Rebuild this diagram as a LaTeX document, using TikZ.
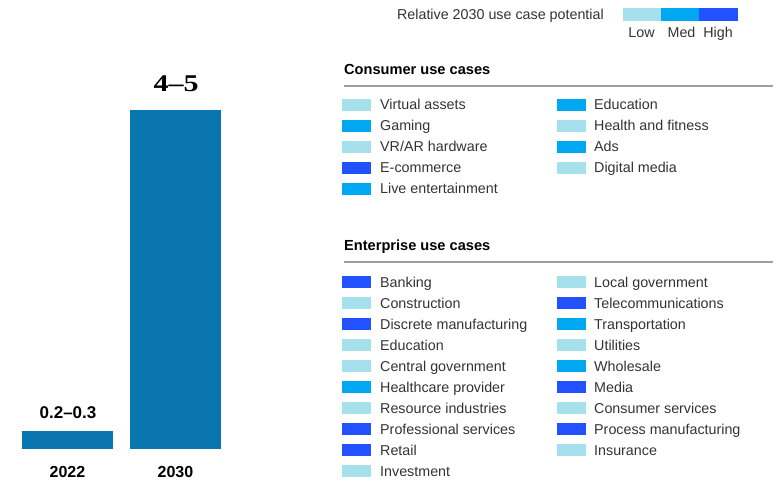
\documentclass[tikz,border=0pt]{standalone}
\usepackage{fontspec}
\setmainfont{Liberation Sans}
\newfontfamily\numserif{Liberation Serif}
\definecolor{lowc}{HTML}{A6E0EC}
\definecolor{medc}{HTML}{00A7F2}
\definecolor{highc}{HTML}{2251FF}
\definecolor{barc}{HTML}{0A76B0}
\definecolor{txt}{HTML}{333333}
\definecolor{rulec}{HTML}{A0A0A0}
\tikzset{
  swatch/.style={fill=#1, draw=none, minimum width=29pt, minimum height=12.5pt, inner sep=0pt, anchor=west},
  item/.style={text=txt, font=\fontsize{14.3}{16}\selectfont, inner sep=0pt, anchor=base west},
  head/.style={text=black, font=\fontsize{14.6}{17}\selectfont\bfseries, inner sep=0pt, anchor=base west},
  yearlab/.style={text=black, font=\fontsize{16}{18}\selectfont\bfseries, inner sep=0pt, anchor=base},
  hrule/.style={draw=rulec, line width=1.1pt},
}
\begin{document}
\begin{tikzpicture}[x=1pt,y=-1pt]
\useasboundingbox (0,0) rectangle (779,481);
% bars
\fill[barc] (22,431) rectangle (113,449);
\fill[barc] (130,110) rectangle (221,449);
\node[yearlab, font=\fontsize{17}{19}\selectfont\bfseries] (v22) at (68,418) {0.2–0.3};
\node[text=black, font=\fontsize{24}{28}\selectfont\numserif\bfseries, inner sep=0pt, anchor=base] (v30) at (176,92) {\scalebox{1.25}[1]{4–5}};
\node[yearlab] (y22) at (67.5,477) {2022};
\node[yearlab] (y30) at (175.5,477) {2030};
% legend
\node[item, anchor=base east] (legt) at (604,20) {Relative 2030 use case potential};
\fill[lowc] (623,8) rectangle (661,21);
\fill[medc] (661,8) rectangle (699,21);
\fill[highc] (699,8) rectangle (738,21);
\node[item, anchor=base] (llow) at (641.5,38) {Low};
\node[item, anchor=base] (lmed) at (681.5,38) {Med};
\node[item, anchor=base] (lhigh) at (718,38) {High};
% consumer
\node[head] (ch) at (344,75) {Consumer use cases};
\coordinate (cr1) at (344,86);
\coordinate (cr2) at (773,86);
\draw[hrule] (cr1) -- (cr2);
\foreach \c/\t [count=\i] in {lowc/Virtual assets, medc/Gaming, lowc/VR\slash AR hardware, highc/E-commerce, medc/Live entertainment}{
  \node[swatch=\c] (cs1\i) at (342,{105+21*(\i-1)}) {};
  \node[item] (ct1\i) at (380,{110+21*(\i-1)}) {\t};
}
\foreach \c/\t [count=\i] in {medc/Education, lowc/Health and fitness, medc/Ads, lowc/Digital media}{
  \node[swatch=\c] (cs2\i) at (557,{105+21*(\i-1)}) {};
  \node[item] (ct2\i) at (594,{110+21*(\i-1)}) {\t};
}
% enterprise
\node[head] (eh) at (344,251) {Enterprise use cases};
\coordinate (er1) at (344,262);
\coordinate (er2) at (773,262);
\draw[hrule] (er1) -- (er2);
\foreach \c/\t [count=\i] in {highc/Banking, lowc/Construction, highc/Discrete manufacturing, lowc/Education, lowc/Central government, medc/Healthcare provider, lowc/Resource industries, highc/Professional services, highc/Retail, lowc/Investment}{
  \node[swatch=\c] (es1\i) at (342,{282+21*(\i-1)}) {};
  \node[item] (et1\i) at (380,{287+21*(\i-1)}) {\t};
}
\foreach \c/\t [count=\i] in {lowc/Local government, highc/Telecommunications, medc/Transportation, lowc/Utilities, medc/Wholesale, highc/Media, lowc/Consumer services, highc/Process manufacturing, lowc/Insurance}{
  \node[swatch=\c] (es2\i) at (557,{282+21*(\i-1)}) {};
  \node[item] (et2\i) at (594,{287+21*(\i-1)}) {\t};
}
\end{tikzpicture}
\end{document}
